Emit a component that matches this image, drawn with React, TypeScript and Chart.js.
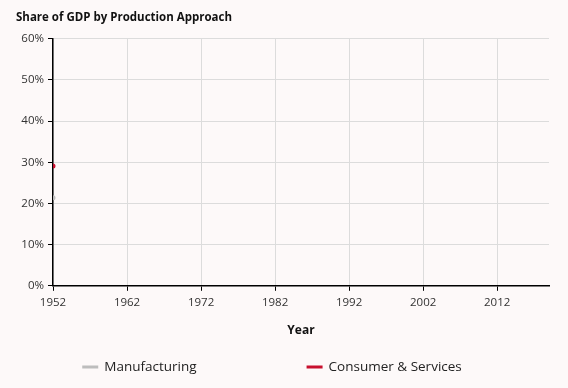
import React, { useEffect, useRef } from "react";
import { Chart, registerables } from "chart.js";

Chart.register(...registerables);

const years = [1952];
const manufacturing = [21.4];
const consumerServices = [29.1];
const xTicks = [1952, 1962, 1972, 1982, 1992, 2002, 2012];
const seriesNames = ["Manufacturing", "Consumer & Services"];
const seriesColors = ["#bdbdbd", "#c8102e"];

const FONT = "'Open Sans', 'DejaVu Sans', sans-serif";

const legendPlugin = {
  id: "customLegend",
  afterDraw(chart: any) {
    const ctx = chart.ctx;
    const ds = chart.data.datasets;
    ctx.save();
    ctx.font = `13.5px ${FONT}`;
    ctx.textBaseline = "middle";
    const y = 367;
    const gap = 110;
    const box = 16;
    const widths = ds.map((d: any) => box + 6 + ctx.measureText(d.label).width);
    const total = widths.reduce((a: number, b: number) => a + b, 0) + gap * (ds.length - 1);
    let x = 272 - total / 2;
    ds.forEach((d: any, i: number) => {
      ctx.fillStyle = d.borderColor;
      ctx.fillRect(x, y - 1.5, box, 3);
      ctx.fillStyle = "#222";
      ctx.fillText(d.label, x + box + 6, y);
      x += widths[i] + gap;
    });
    ctx.restore();
  },
};

export default function App() {
  const ref = useRef<HTMLCanvasElement | null>(null);
  useEffect(() => {
    document.body.style.margin = "0";
    const chart = new Chart(ref.current as HTMLCanvasElement, {
      type: "line",
      data: {
        datasets: [
          {
            label: seriesNames[0],
            data: years.map((x, i) => ({ x, y: manufacturing[i] })),
            borderColor: seriesColors[0],
            backgroundColor: seriesColors[0],
            borderWidth: 2,
            pointRadius: 1.5,
            pointHoverRadius: 1.5,
          },
          {
            label: seriesNames[1],
            data: years.map((x, i) => ({ x, y: consumerServices[i] })),
            borderColor: seriesColors[1],
            backgroundColor: seriesColors[1],
            borderWidth: 2,
            pointRadius: 1.5,
            pointHoverRadius: 1.5,
          },
        ],
      },
      options: {
        animation: false,
        responsive: false,
        maintainAspectRatio: false,
        layout: { padding: { left: 16, right: 19, top: 0, bottom: 50 } },
        plugins: {
          legend: { display: false },
          tooltip: { enabled: false },
          title: {
            display: true,
            text: "Share of GDP by Production Approach",
            align: "start",
            color: "#111",
            font: { family: FONT, size: 11.5, weight: "bold" },
            padding: { top: 11, bottom: 14 },
          },
        },
        scales: {
          x: {
            type: "linear",
            min: 1952,
            max: 2019,
            afterBuildTicks: (scale: any) => {
              scale.ticks = xTicks.map((v) => ({ value: v }));
            },
            grid: {
              color: "#dcdcdc",
              tickColor: "#000",
              tickLength: 5,
            },
            border: { color: "#000", width: 1.5 },
            ticks: {
              color: "#333",
              font: { family: FONT, size: 11.5 },
              padding: 5,
              maxRotation: 0,
              callback: (v: any) => String(v),
            },
            title: {
              display: true,
              text: "Year",
              color: "#111",
              font: { family: FONT, size: 12, weight: "bold" },
              padding: { top: 9, bottom: 0 },
            },
          },
          y: {
            min: 0,
            max: 60,
            afterFit: (scale: any) => {
              scale.width = 37;
            },
            grid: {
              color: "#dcdcdc",
              tickColor: "#000",
              tickLength: 5,
            },
            border: { color: "#000", width: 1.5 },
            ticks: {
              stepSize: 10,
              color: "#333",
              font: { family: FONT, size: 11.5 },
              padding: 4,
              callback: (v: any) => v + "%",
            },
          },
        },
      },
      plugins: [legendPlugin],
    } as any);
    return () => chart.destroy();
  }, []);
  return (
    <div style={{ width: 568, height: 388, background: "#fdf9f9" }}>
      <canvas ref={ref} width={568} height={388} style={{ display: "block" }} />
    </div>
  );
}
